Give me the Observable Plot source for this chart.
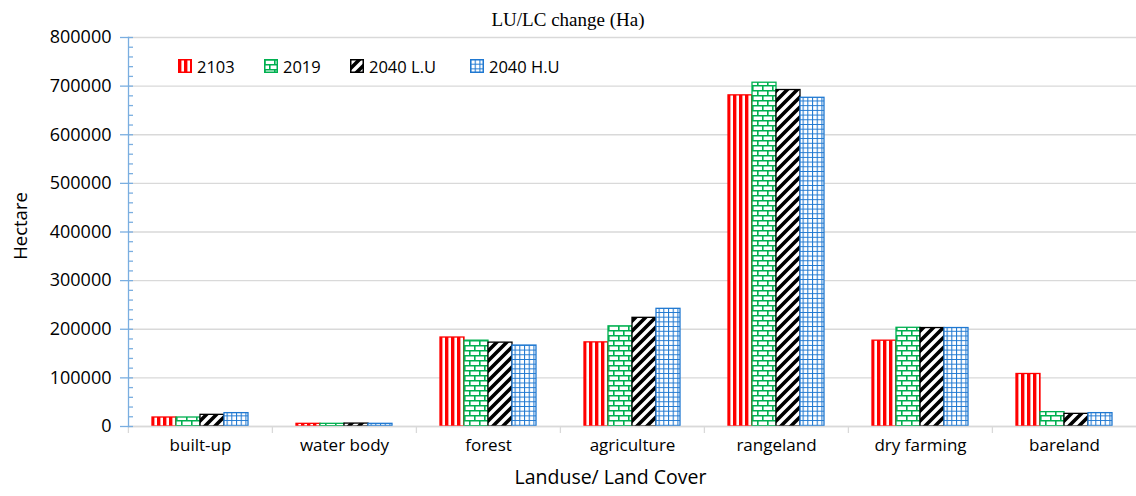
<!DOCTYPE html>
<html>
<head>
<meta charset="utf-8">
<script src="https://cdn.jsdelivr.net/npm/d3@7"></script>
<script src="https://cdn.jsdelivr.net/npm/@observablehq/plot@0.6"></script>
<style>
  html, body { margin: 0; padding: 0; background: #fff; }
  #wrap { position: relative; width: 1136px; height: 496px; overflow: hidden; font-family: "Open Sans", sans-serif; }
  #title { height: 30px; line-height: 30px; text-align: center; font-family: "Liberation Serif", serif; font-size: 19px; padding-top: 5px; box-sizing: border-box; color: #000; }
  #legend { position: absolute; top: 56px; left: 0; width: 1136px; height: 20px; font-size: 16.5px; color: #000; }
  .item { position: absolute; top: 0; height: 20px; display: flex; align-items: center; white-space: nowrap; }
  .item svg { margin-right: 5px; }
</style>
</head>
<body>
<svg width="0" height="0" style="position:absolute">
  <defs>
    <pattern id="p2103" patternUnits="userSpaceOnUse" width="6" height="6">
      <rect width="6" height="6" fill="#fff"/>
      <rect x="0" y="0" width="3.4" height="6" fill="#ff0000"/>
    </pattern>
    <pattern id="p2019" patternUnits="userSpaceOnUse" width="10" height="10">
      <rect width="10" height="10" fill="#fff"/>
      <path d="M0,0.8H10M0,5.8H10M0.8,0V5M5.8,5V10" stroke="#00b050" stroke-width="1.6" fill="none"/>
    </pattern>
    <pattern id="p2040L" patternUnits="userSpaceOnUse" width="10" height="10">
      <rect width="10" height="10" fill="#fff"/>
      <path d="M-1,11L11,-1M-6,6L6,-6M4,16L16,4" stroke="#000" stroke-width="3.6" fill="none"/>
    </pattern>
    <pattern id="p2040H" patternUnits="userSpaceOnUse" width="4.7" height="4.7">
      <rect width="4.7" height="4.7" fill="#fff"/>
      <path d="M0,0.5H4.7M0.5,0V4.7" stroke="#1f78d1" stroke-width="1.1" fill="none"/>
    </pattern>
  </defs>
</svg>
<div id="wrap">
  <div id="title">LU/LC change (Ha)</div>
  <div id="chart"></div>
  <div id="legend"></div>
</div>
<script>
const categories = ["built-up", "water body", "forest", "agriculture", "rangeland", "dry farming", "bareland"];
const series = ["2103", "2019", "2040 L.U", "2040 H.U"];
const v2103  = [18500, 5500, 183000, 173000, 681000, 176500, 108000];
const v2019  = [18500, 5500, 176500, 206000, 707000, 203000, 29500];
const v2040L = [24000, 6000, 172500, 223500, 692000, 202500, 26000];
const v2040H = [27500, 5500, 166500, 242000, 676000, 202500, 27500];
const yTicks = [0, 100000, 200000, 300000, 400000, 500000, 600000, 700000, 800000];
const yMinor = d3.range(0, 800001, 20000).filter(v => v % 100000 !== 0);
const xTitle = "Landuse/ Land Cover";
const yTitle = "Hectare";

const seriesValues = [v2103, v2019, v2040L, v2040H];
const colors = ["#ff0000", "#00b050", "#000000", "#1f78d1"];
const patterns = ["p2103", "p2019", "p2040L", "p2040H"];
const data = categories.flatMap((c, i) => series.map((s, k) => ({category: c, series: s, value: seriesValues[k][i]})));

const axisBlue = "#7aaee0";
const gridGray = "#d9d9d9";

const chart = Plot.plot({
  width: 1136,
  height: 466,
  marginTop: 7,
  marginLeft: 127,
  marginRight: 0,
  marginBottom: 70,
  style: {fontFamily: "'Open Sans', sans-serif", fontSize: "17px", color: "#000", background: "#fff", overflow: "visible"},
  fx: {domain: categories, padding: 0},
  x: {domain: series, paddingInner: 0, paddingOuter: 0.93, axis: null},
  y: {domain: [0, 800000]},
  marks: [
    Plot.gridY(yTicks, {stroke: gridGray, strokeOpacity: 1, strokeWidth: 1.3}),
    ...series.map((s, k) => Plot.barY(data.filter(d => d.series === s), {
      fx: "category", x: "series", y: "value",
      fill: `url(#${patterns[k]})`, stroke: colors[k], strokeWidth: 1.3, inset: 0
    })),
    Plot.ruleY([0], {stroke: gridGray, strokeWidth: 1.3}),
    Plot.axisFx({anchor: "bottom", tickSize: 7, dx: -72.1, tickFormat: () => "", label: null, stroke: gridGray, strokeWidth: 1.3}),
    Plot.axisFx({anchor: "bottom", tickSize: 0, tickPadding: 12, label: null, fontSize: 17}),
    Plot.text([xTitle], {text: d => d, facet: "super", frameAnchor: "bottom", dy: 57, dx: -22, fontSize: 19.5}),
    Plot.frame({anchor: "left", facetAnchor: "left", stroke: axisBlue, strokeWidth: 1.3}),
    Plot.axisY(yTicks, {tickSize: 13, dx: 5, tickFormat: () => "", label: null, stroke: axisBlue, strokeWidth: 1.3}),
    Plot.axisY(yMinor, {tickSize: 5, dx: 5, tickFormat: () => "", label: null, stroke: axisBlue, strokeWidth: 1.3}),
    Plot.axisY(yTicks, {tickSize: 0, tickPadding: 17, tickFormat: d => String(d), label: null, fontSize: 18}),
    Plot.text([yTitle], {text: d => d, facetAnchor: "left", frameAnchor: "left", textAnchor: "middle", rotate: -90, dx: -107, dy: -6, fontSize: 18.5})
  ]
});
document.getElementById("chart").appendChild(chart);

// legend
const legendLeft = [178, 264, 350, 470];
const legend = document.getElementById("legend");
series.forEach((s, k) => {
  const item = document.createElement("div");
  item.className = "item";
  item.style.left = legendLeft[k] + "px";
  item.innerHTML = `<svg width="14" height="14"><rect x="0.75" y="0.75" width="12.5" height="12.5" fill="url(#${patterns[k]})" stroke="${colors[k]}" stroke-width="1.5"/></svg><span>${s}</span>`;
  legend.appendChild(item);
});
</script>
</body>
</html>
